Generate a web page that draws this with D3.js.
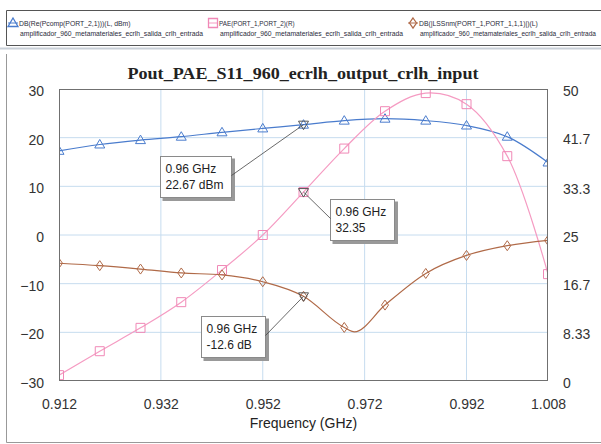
<!DOCTYPE html>
<html>
<head>
<meta charset="utf-8">
<script src="https://cdn.jsdelivr.net/npm/d3@7"></script>
<style>
  body { margin: 0; background: #fff; }
  svg { display: block; font-family: 'Liberation Sans', Arial, sans-serif; }
</style>
</head>
<body>
<div id="chart"></div>
<script>
// sweep points (GHz) shared by Pout and PAE, markers sit on these too
const freq = [0.912, 0.920, 0.928, 0.936, 0.944, 0.952, 0.960, 0.968, 0.976, 0.984, 0.992, 1.000, 1.008];
const pout = [17.3, 18.6, 19.5, 20.2, 21.1, 21.9, 22.67, 23.5, 23.9, 23.5, 22.5, 20.2, 14.9];   // dBm, left axis
const pae = [1.0, 5.1, 9.1, 13.5, 19.0, 25.0, 32.35, 39.8, 46.2, 49.3, 47.4, 38.5, 18.3];       // %, right axis
// S11 has an extra point at the dip
const s11Freq = [0.912, 0.920, 0.928, 0.936, 0.944, 0.952, 0.960, 0.968, 0.970, 0.976, 0.984, 0.992, 1.000, 1.008];
const s11 = [-5.8, -6.3, -7.0, -7.8, -8.2, -9.6, -12.6, -19.0, -19.9, -14.4, -7.9, -4.2, -2.2, -1.1];  // dB, left axis

const xTicks = [0.912, 0.932, 0.952, 0.972, 0.992, 1.008];
const leftTicks = [-30, -20, -10, 0, 10, 20, 30];
const rightTicks = [0, 8.33, 16.7, 25, 33.3, 41.7, 50];

const title = 'Pout_PAE_S11_960_ecrlh_output_crlh_input';
const xTitle = 'Frequency (GHz)';
const legendNames = ['DB(Re(Pcomp(PORT_2,1)))(L, dBm)', 'PAE(PORT_1,PORT_2)(R)', 'DB(|LSSnm(PORT_1,PORT_1,1,1)|)(L)'];
const legendSource = 'amplificador_960_metamateriales_ecrlh_salida_crlh_entrada';

const markerFreq = 0.96;
const markerLabels = [['0.96 GHz', '22.67 dBm'], ['0.96 GHz', '32.35'], ['0.96 GHz', '-12.6 dB']];

const width = 601, height = 444;
const plot = { left: 59, right: 548, top: 89, bottom: 381 };

const svg = d3.select('#chart').append('svg')
  .attr('width', width)
  .attr('height', height);

const x = d3.scaleLinear().domain([0.912, 1.008]).range([plot.left, plot.right]);
const yL = d3.scaleLinear().domain([-30, 30]).range([plot.bottom, plot.top]);
const yR = d3.scaleLinear().domain([0, 50]).range([plot.bottom, plot.top]);

// marker shapes, centred on the point
function shape(type) {
  if (type === 'tri') return 'M0,-5L5,3.5L-5,3.5Z';
  if (type === 'sq') return 'M-4.5,-4.5H4.5V4.5H-4.5Z';
  if (type === 'dia') return 'M0,-5L3.5,0L0,5L-3.5,0Z';
  return 'M-5,-3.5L5,-3.5L0,5Z'; // inverted triangle (marker readout)
}

const series = [
  { xs: freq, ys: pout, y: yL, color: '#4a7ccd', shape: 'tri', curve: d3.curveCatmullRom.alpha(0.5) },
  { xs: freq, ys: pae, y: yR, color: '#f59bc2', mcolor: '#f088b6', shape: 'sq', curve: d3.curveCatmullRom.alpha(0.5) },
  { xs: s11Freq, ys: s11, y: yL, color: '#b06a48', shape: 'dia', curve: d3.curveMonotoneX },
];

drawFrames();
drawLegend();
drawPlot();
drawAnnotations();

function drawFrames() {
  // legend panel
  svg.append('path')
    .attr('d', `M${width},10.5H6.5V45.5H${width}`)
    .attr('fill', 'none').attr('stroke', '#555');
  svg.append('line')
    .attr('x1', 0).attr('x2', width).attr('y1', 48.5).attr('y2', 48.5)
    .attr('stroke', '#c9d0d8').attr('stroke-width', 2);
  // chart panel
  svg.append('path')
    .attr('d', `M6.5,54V442.5H${width}`)
    .attr('fill', 'none').attr('stroke', '#999');
}

function drawLegend() {
  const g = svg.append('g').attr('class', 'legend');
  series.forEach((s, i) => {
    const lx = 8 + i * 200;
    const item = g.append('g').attr('transform', `translate(${lx},23)`);
    item.append('line').attr('x1', 0).attr('x2', 10)
      .attr('stroke', s.color).attr('stroke-width', 1);
    item.append('path')
      .attr('d', shape(s.shape))
      .attr('transform', 'translate(5,0)')
      .attr('fill', 'none').attr('stroke', s.mcolor || s.color).attr('stroke-width', 1.3);
    item.append('text')
      .attr('x', 11).attr('y', 2.5)
      .attr('font-size', 7.5).attr('fill', '#2a2a3a')
      .attr('textLength', legendNames[i].length * 3.6)
      .attr('lengthAdjust', 'spacingAndGlyphs')
      .text(legendNames[i]);
    // last item runs up against the right edge, so it gets squeezed a bit
    item.append('text')
      .attr('x', 12).attr('y', 12.5)
      .attr('font-size', i === 2 ? 6.4 : 7.5).attr('fill', '#2a2a3a')
      .attr('textLength', i === 2 ? 176 : 183)
      .attr('lengthAdjust', 'spacingAndGlyphs')
      .text(legendSource);
  });
}

function drawPlot() {
  // gridlines
  const grid = svg.append('g').attr('class', 'grid');
  grid.selectAll('.gx')
    .data(xTicks.slice(1, -1))
    .join('line')
    .attr('x1', (d) => x(d)).attr('x2', (d) => x(d))
    .attr('y1', plot.top).attr('y2', plot.bottom)
    .attr('stroke', '#c6dcef');
  grid.selectAll('.gy')
    .data(leftTicks.slice(1, -1))
    .join('line')
    .attr('x1', plot.left).attr('x2', plot.right)
    .attr('y1', (d) => yL(d)).attr('y2', (d) => yL(d))
    .attr('stroke', '#c6dcef');

  // axes as text only, the frame is drawn separately
  const xAxis = svg.append('g')
    .attr('transform', `translate(0,${plot.bottom + 28})`)
    .call(d3.axisBottom(x).tickValues(xTicks).tickFormat(d3.format('.3f')).tickSize(0).tickPadding(0));
  const yAxisL = svg.append('g')
    .attr('transform', `translate(${plot.left - 15},0)`)
    .call(d3.axisLeft(yL).tickValues(leftTicks).tickSize(0).tickPadding(0));
  const yAxisR = svg.append('g')
    .attr('transform', `translate(${plot.right + 15},0)`)
    .call(d3.axisRight(yR).tickValues(rightTicks).tickFormat((d) => String(d)).tickSize(0).tickPadding(0));
  [xAxis, yAxisL, yAxisR].forEach((a) => {
    a.select('.domain').remove();
    a.selectAll('text')
      .attr('font-family', "'Liberation Sans', Arial, sans-serif")
      .attr('font-size', 14).attr('fill', '#333');
  });
  xAxis.selectAll('text').attr('dy', 0).attr('y', 0);
  yAxisL.selectAll('text').attr('dy', '0.32em').attr('y', 2);
  yAxisR.selectAll('text').attr('dy', '0.32em').attr('y', 2);

  svg.append('text')
    .attr('x', (plot.left + plot.right) / 2).attr('y', 428)
    .attr('text-anchor', 'middle')
    .attr('font-size', 14).attr('fill', '#222')
    .text(xTitle);

  svg.append('text')
    .attr('x', 303).attr('y', 79)
    .attr('text-anchor', 'middle')
    .attr('font-family', "'Liberation Serif', 'Times New Roman', serif")
    .attr('font-weight', 'bold')
    .attr('font-size', 17.5).attr('fill', '#222')
    .attr('textLength', 351)
    .attr('lengthAdjust', 'spacingAndGlyphs')
    .text(title);

  svg.append('clipPath').attr('id', 'clip')
    .append('rect')
    .attr('x', plot.left).attr('y', plot.top)
    .attr('width', plot.right - plot.left).attr('height', plot.bottom - plot.top);

  const traces = svg.append('g').attr('clip-path', 'url(#clip)');

  series.forEach((s) => {
    const pts = s.xs.map((f, i) => [f, s.ys[i]]);
    const line = d3.line()
      .x((d) => x(d[0]))
      .y((d) => s.y(d[1]))
      .curve(s.curve);
    traces.append('path')
      .attr('d', line(pts))
      .attr('fill', 'none')
      .attr('stroke', s.color)
      .attr('stroke-width', 1.2);

    traces.selectAll(null)
      .data(pts.filter((d) => freq.includes(d[0])))
      .join('path')
      .attr('d', shape(s.shape))
      .attr('transform', (d) => `translate(${x(d[0])},${s.y(d[1])})`)
      .attr('fill', 'none')
      .attr('stroke', s.mcolor || s.color)
      .attr('stroke-width', 1);
  });

  // frame
  svg.append('rect')
    .attr('x', plot.left + 0.5).attr('y', plot.top + 0.5)
    .attr('width', plot.right - plot.left - 1).attr('height', plot.bottom - plot.top - 1)
    .attr('fill', 'none').attr('stroke', '#707070');
}

function drawAnnotations() {
  // where each readout box sits relative to its marker
  const offsets = [[-143, 31, 'right'], [27, 7, 'left'], [-102, 20, 'right']];
  const g = svg.append('g').attr('class', 'annotations');

  series.forEach((s, i) => {
    const idx = s.xs.indexOf(markerFreq);
    const mx = x(markerFreq);
    const my = s.y(s.ys[idx]);
    const [dx, dy, side] = offsets[i];
    const bx = Math.round(mx + dx) + 0.5;
    const by = Math.round(my + dy) + 0.5;

    const box = g.append('g');
    const texts = markerLabels[i].map((t, k) => box.append('text')
      .attr('x', bx + 5).attr('y', by + 16.5 + k * 15.5)
      .attr('font-size', 12).attr('fill', '#222')
      .text(t));
    const tw = d3.max(texts, (t) => t.node().getComputedTextLength());
    const bw = Math.round(tw + 13);
    const bh = 41;

    box.insert('rect', 'text')
      .attr('x', bx + 2).attr('y', by + 2).attr('width', bw + 1.5).attr('height', bh + 1.5)
      .attr('fill', '#999');
    box.insert('rect', 'text')
      .attr('x', bx).attr('y', by).attr('width', bw).attr('height', bh)
      .attr('fill', '#fff').attr('stroke', '#8a8a8a');

    g.append('line')
      .attr('x1', mx).attr('y1', my)
      .attr('x2', side === 'right' ? bx + bw : bx)
      .attr('y2', by + 19)
      .attr('stroke', '#444').attr('stroke-width', 0.8);

    g.append('path')
      .attr('d', shape('inv'))
      .attr('transform', `translate(${mx},${my})`)
      .attr('fill', 'none').attr('stroke', '#555').attr('stroke-width', 1);
  });
}
</script>
</body>
</html>
